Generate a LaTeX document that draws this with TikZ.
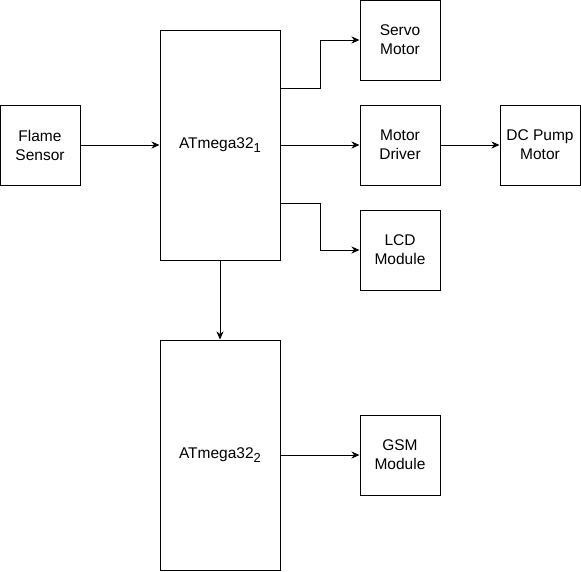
\documentclass[tikz,border=0pt]{standalone}
\usepackage{fontspec}
\setmainfont{Liberation Sans}
\usetikzlibrary{arrows.meta}
\newcommand{\subnum}[1]{\raisebox{-4pt}{\fontsize{13}{13}\selectfont #1}}
\begin{document}
\begin{tikzpicture}[x=1pt,y=-1pt,
  blk/.style={draw=black,line width=1pt,fill=white,align=center,
    font=\fontsize{15.5}{19}\selectfont,inner sep=0pt},
  conn/.style={draw=black,line width=1pt,-{Stealth[length=8pt,width=7pt,inset=2.5pt]}}]
\useasboundingbox (0,0) rectangle (581,571);
\node[blk,minimum width=80pt,minimum height=80pt] (flame) at (40,145) {Flame\\Sensor};
\node[blk,minimum width=120pt,minimum height=230pt] (mc1) at (220,145) {ATmega32\subnum{1}};
\node[blk,minimum width=80pt,minimum height=80pt] (servo) at (400,40) {Servo\\Motor};
\node[blk,minimum width=80pt,minimum height=80pt] (drv) at (400,145) {Motor\\Driver};
\node[blk,minimum width=80pt,minimum height=80pt] (pump) at (540,145) {DC Pump\\Motor};
\node[blk,minimum width=80pt,minimum height=80pt] (lcd) at (400,250) {LCD\\Module};
\node[blk,minimum width=120pt,minimum height=230pt] (mc2) at (220,455) {ATmega32\subnum{2}};
\node[blk,minimum width=80pt,minimum height=80pt] (gsm) at (400,455) {GSM\\Module};
\coordinate (s1) at ([yshift=57pt]mc1.east);
\coordinate (l1) at ([yshift=-58pt]mc1.east);
\draw[conn] (flame.east) -- (mc1.west);
\draw[conn] (s1) -| (320,40) -- (servo.west);
\draw[conn] (mc1.east) -- (drv.west);
\draw[conn] (drv.east) -- (pump.west);
\draw[conn] (l1) -| (320,250) -- (lcd.west);
\draw[conn] (mc1.south) -- (mc2.north);
\draw[conn] (mc2.east) -- (gsm.west);
\end{tikzpicture}
\end{document}
